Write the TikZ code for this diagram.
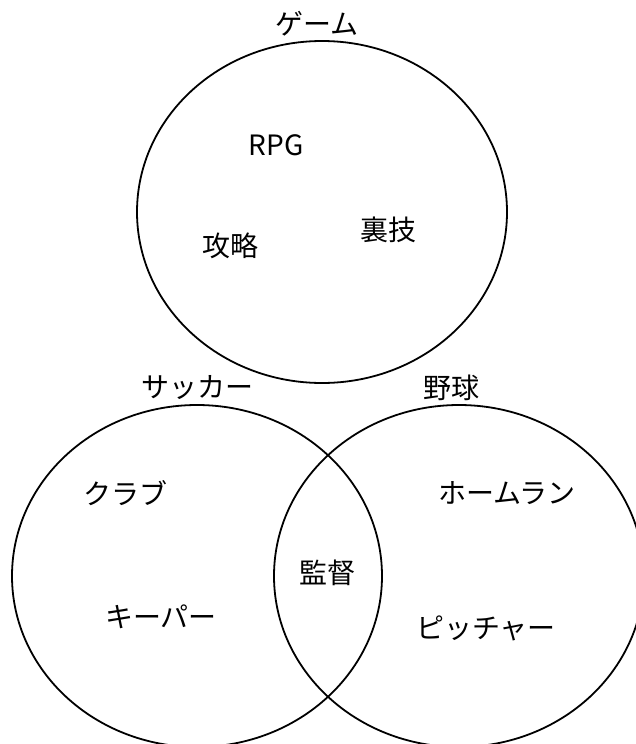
\documentclass[tikz,border=0pt]{standalone}
\usepackage{fontspec}
\setmainfont{Noto Sans CJK JP}
\usetikzlibrary{shapes.geometric,positioning}
\tikzset{%
	setnode/.style={ellipse, draw=black, line width=1.8pt, minimum width=370pt, minimum height=342pt, inner sep=0pt},
	word/.style={font=\fontsize{28}{32}\selectfont, inner sep=1pt}
}

\begin{document}
\begin{tikzpicture}[x=1pt, y=-1pt]
	\useasboundingbox (0,0) rectangle (635,744);

	\node[setnode] (game) at (322,212) {};
	\node[setnode] (soccer) at (197,576) {};
	\node[setnode] (baseball) at (459,576) {};

	\node[word] (gametitle) at (317,24) {ゲーム};
	\node[word] (soccertitle) at (197,388) {サッカー};
	\node[word] (basetitle) at (451,388) {野球};

	\node[word] (rpg) at (276,145) {RPG};
	\node[word] (koryaku) at (230,246) {攻略};
	\node[word] (urawaza) at (388,230) {裏技};

	\node[word] (club) at (125,493) {クラブ};
	\node[word] (keeper) at (161,617) {キーパー};
	\node[word] (kantoku) at (327,573) {監督};
	\node[word] (homerun) at (507,493) {ホームラン};
	\node[word] (pitcher) at (486,628) {ピッチャー};
\end{tikzpicture}
\end{document}
